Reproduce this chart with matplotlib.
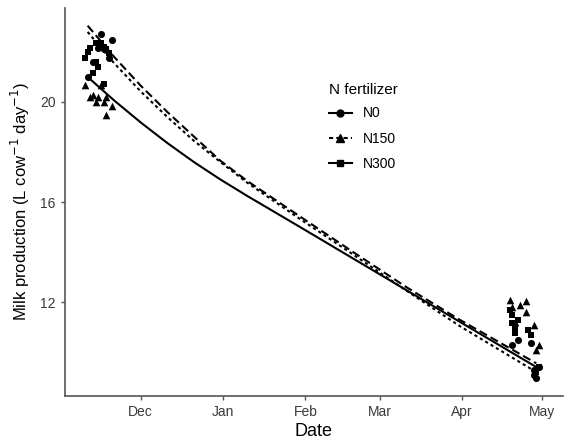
import numpy as np
import pandas as pd
import matplotlib
matplotlib.use("Agg")
import matplotlib.pyplot as plt
import matplotlib.dates as mdates
from matplotlib.lines import Line2D

plt.rcParams['font.family'] = ['Liberation Sans', 'DejaVu Sans']

# fitted curves (date, predicted milk yield)
fit_dates = ['2016-11-11', '2016-11-21', '2016-12-01', '2016-12-11', '2016-12-21',
             '2016-12-31', '2017-01-10', '2017-01-30', '2017-02-19', '2017-03-11',
             '2017-03-31', '2017-04-29']
fit_N0 = [21.0, 20.06, 19.18, 18.36, 17.6, 16.9, 16.25, 15.0, 13.74, 12.48, 11.22, 9.4]
fit_N150 = [23.05, 21.8, 20.65, 19.6, 18.62, 17.65, 16.85, 15.42, 14.0, 12.6, 11.3, 9.55]
fit_N300 = [22.8, 21.55, 20.42, 19.4, 18.45, 17.6, 16.78, 15.32, 13.9, 12.46, 11.05, 9.2]

# observations
obs_N0_dates = ['2016-11-16', '2016-11-20', '2016-11-13', '2016-11-11', '2016-11-17',
                '2016-11-15', '2016-11-19',
                '2017-04-22', '2017-04-20', '2017-04-27', '2017-04-28', '2017-04-29',
                '2017-04-28', '2017-04-30']
obs_N0 = [22.7, 22.48, 21.6, 21.0, 22.1, 22.15, 21.75,
          10.48, 10.28, 10.36, 9.28, 8.96, 9.08, 9.4]

obs_N150_dates = ['2016-11-10', '2016-11-12', '2016-11-14', '2016-11-15', '2016-11-16',
                  '2016-11-17', '2016-11-18', '2016-11-20', '2016-11-18', '2016-11-13',
                  '2017-04-19', '2017-04-25', '2017-04-23', '2017-04-25', '2017-04-28',
                  '2017-04-21', '2017-04-30', '2017-04-29', '2017-04-20']
obs_N150 = [20.68, 20.2, 20.0, 20.2, 20.68, 20.0, 20.2, 19.84, 19.48, 20.28,
            12.08, 12.04, 11.88, 11.6, 11.08, 11.2, 10.28, 10.08, 11.8]

obs_N300_dates = ['2016-11-14', '2016-11-12', '2016-11-11', '2016-11-10', '2016-11-14',
                  '2016-11-15', '2016-11-13', '2016-11-17', '2016-11-16', '2016-11-17',
                  '2016-11-18', '2016-11-19',
                  '2017-04-19', '2017-04-20', '2017-04-22', '2017-04-20', '2017-04-21',
                  '2017-04-26', '2017-04-27', '2017-04-21', '2017-04-30', '2017-04-29']
obs_N300 = [22.35, 22.15, 22.0, 21.75, 21.6, 21.4, 21.15, 20.7, 22.35, 22.2, 22.1, 21.95,
            11.68, 11.48, 11.28, 11.16, 10.96, 10.88, 10.68, 10.76, 9.4, 9.2]

fd = pd.to_datetime(fit_dates)

fig = plt.figure(figsize=(5.64, 4.41), dpi=100)
ax = fig.add_axes([0.115, 0.103, 0.883, 0.879])

ax.plot(fd, fit_N0, color='black', lw=1.5, ls='-')
ax.plot(fd, fit_N150, color='black', lw=1.5, ls=(0, (4, 2)))
ax.plot(fd, fit_N300, color='black', lw=1.5, ls=(0, (1.5, 1.5)))

ax.scatter(pd.to_datetime(obs_N0_dates), obs_N0, marker='o', s=26, color='black', lw=0)
ax.scatter(pd.to_datetime(obs_N150_dates), obs_N150, marker='^', s=30, color='black', lw=0)
ax.scatter(pd.to_datetime(obs_N300_dates), obs_N300, marker='s', s=24, color='black', lw=0)

ax.set_xlim(pd.Timestamp('2016-11-02 10:00'), pd.Timestamp('2017-05-09'))
ax.set_ylim(8.26, 23.76)
ax.set_yticks([12, 16, 20])
ax.xaxis.set_major_locator(mdates.MonthLocator(bymonth=[12, 1, 2, 3, 4, 5]))
ax.xaxis.set_major_formatter(mdates.DateFormatter('%b'))

for s in ['top', 'right']:
    ax.spines[s].set_visible(False)
for s in ['left', 'bottom']:
    ax.spines[s].set_color('#555555')
    ax.spines[s].set_linewidth(1.2)
ax.tick_params(colors='#555555', labelcolor='#3a3a3a', labelsize=10, length=3, width=1)

ax.set_xlabel('Date', fontsize=13, labelpad=3)
ax.set_ylabel('Milk production (L cow$^{-1}$ day$^{-1}$)', fontsize=12, labelpad=6)

handles = [
    Line2D([], [], color='black', lw=1.5, ls='-', marker='o', ms=5),
    Line2D([], [], color='black', lw=1.5, ls=(0, (2, 1.5)), marker='^', ms=6),
    Line2D([], [], color='black', lw=1.5, ls='-', marker='s', ms=5),
]
leg = ax.legend(handles, ['N0', 'N150', 'N300'], title='N fertilizer', frameon=False,
                loc='upper left', bbox_to_anchor=(0.574, 0.825), bbox_transform=fig.transFigure,
                fontsize=10, title_fontsize=11, handlelength=1.6, labelspacing=0.82,
                handletextpad=0.8, borderaxespad=0)
leg._legend_box.align = 'left'
leg._legend_box.sep = 7

fig.savefig('out.png', dpi=100)
